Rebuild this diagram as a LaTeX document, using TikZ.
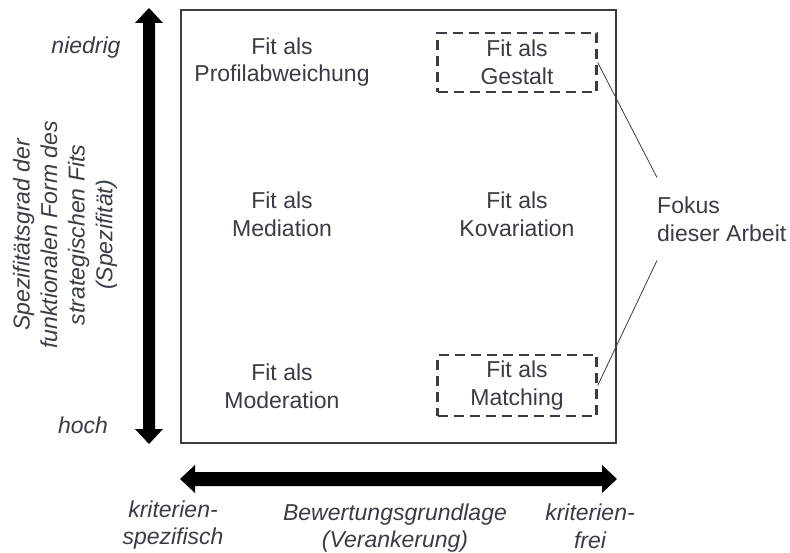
\documentclass[tikz,border=0pt]{standalone}
\usepackage{fontspec}
\setmainfont{Liberation Sans}
\begin{document}
\definecolor{ink}{RGB}{55,60,70}
\begin{tikzpicture}[x=1pt, y=-1pt,
  txt/.style={text=ink, font=\fontsize{23}{27.6}\selectfont, align=center, inner sep=0pt},
  axislabel/.style={txt, font=\fontsize{23}{27.6}\selectfont\itshape},
  focusbox/.style={draw=ink, line width=2.4pt, dash pattern=on 10pt off 6pt,
    minimum width=159pt, inner sep=0pt},
  framebox/.style={draw=ink, line width=1.5pt},
  pointer/.style={draw=ink, line width=0.8pt},
  arrowfill/.style={fill=black}]
\useasboundingbox (0,0) rectangle (790,553);

% outer frame of the matrix
\draw[framebox] (181,10) rectangle (616,443);

% cells
\node[txt] (c11) at (282,62) {Fit als\\Profilabweichung};
\node[txt, focusbox, minimum height=59pt] (c12) at (517,62.5) {Fit als\\Gestalt};
\node[txt] (c21) at (282,214) {Fit als\\Mediation};
\node[txt] (c22) at (517,214) {Fit als\\Kovariation};
\node[txt] (c31) at (282,386) {Fit als\\Moderation};
\node[txt, focusbox, minimum height=61pt] (c32) at (517,385.5) {Fit als\\Matching};

% focus annotation
\node[txt, align=left, anchor=west, inner xsep=0pt, inner ysep=19pt] (fokus) at (657,219) {Fokus\\dieser Arbeit};
\draw[pointer] (c12.east) -- (fokus.north west);
\draw[pointer] (fokus.south west) -- (c32.east);

% vertical axis
\coordinate (vtop) at (149,8);
\coordinate (vbot) at (149,444);
\fill[arrowfill] (vtop) -- ++(14,15) -- ++(-8,0) -- ++(0,406) -- ++(8,0) -- (vbot)
  -- ++(-14,-15) -- ++(8,0) -- ++(0,-406) -- ++(-8,0) -- cycle;
\node[axislabel] (vhigh) at (86,48) {niedrig};
\node[axislabel] (vlow) at (83,425) {hoch};
\node[axislabel, rotate=90] (vname) at (65,235)
  {Spezifitätsgrad der\\funktionalen Form des\\strategischen Fits\\(Spezifität)};

% horizontal axis
\coordinate (hleft) at (180,479);
\coordinate (hright) at (617,479);
\fill[arrowfill] (hleft) -- ++(15,-14) -- ++(0,7) -- ++(407,0) -- ++(0,-7) -- (hright)
  -- ++(-15,14) -- ++(0,-7) -- ++(-407,0) -- ++(0,7) -- cycle;
\node[axislabel] (hl) at (173,525) {kriterien-\\spezifisch};
\node[axislabel] (hname) at (395,528) {Bewertungsgrundlage\\(Verankerung)};
\node[axislabel] (hr) at (590,526) {kriterien-\\frei};
\end{tikzpicture}
\end{document}
